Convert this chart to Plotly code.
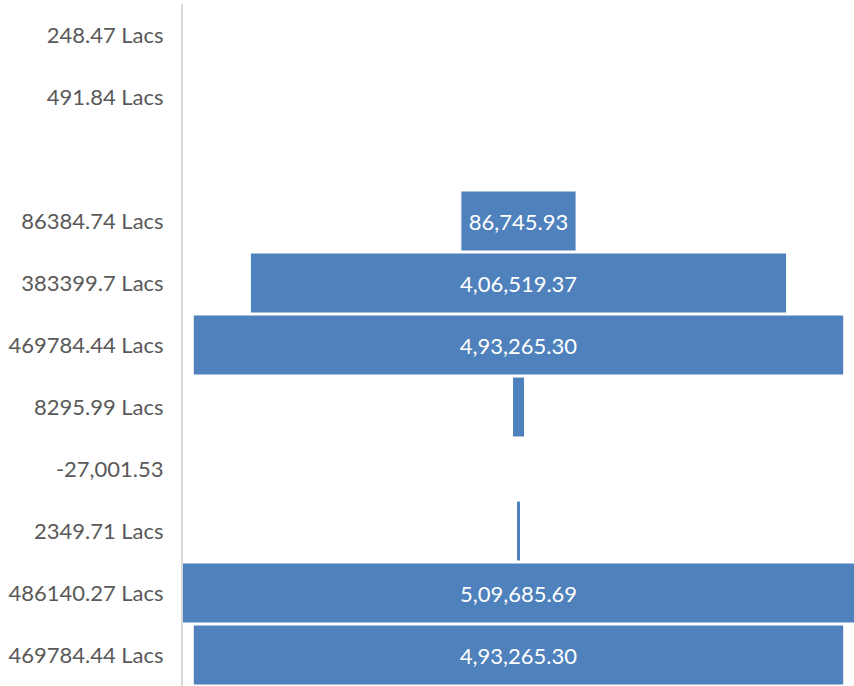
import plotly.graph_objects as go

categories = ["248.47 Lacs", "491.84 Lacs", "", "86384.74 Lacs", "383399.7 Lacs",
              "469784.44 Lacs", "8295.99 Lacs", "-27,001.53", "2349.71 Lacs",
              "486140.27 Lacs", "469784.44 Lacs"]
values = [None, None, None, 86745.93, 406519.37, 493265.30, 8400, None, 2300,
          509685.69, 493265.30]
data_labels = ["", "", "", "86,745.93", "4,06,519.37", "4,93,265.30", "", "", "",
               "5,09,685.69", "4,93,265.30"]

positions = list(range(len(categories)))
vmax = max(v for v in values if v is not None)

fig = go.Figure(go.Funnel(
    y=positions,
    x=values,
    orientation="h",
    text=data_labels,
    textinfo="text",
    textposition="inside",
    insidetextanchor="middle",
    textfont=dict(family="Lato", size=22, color="white"),
    marker=dict(color="#4F81BD", line=dict(width=0)),
    connector=dict(visible=False),
    hoverinfo="x+text",
))

fig.update_layout(
    width=854, height=686,
    margin=dict(l=183, r=0, t=4, b=0),
    paper_bgcolor="white", plot_bgcolor="white",
    funnelgap=0.05,
    showlegend=False,
    font=dict(family="Lato"),
)
fig.update_xaxes(range=[-vmax / 2, vmax / 2], visible=False, showgrid=False, zeroline=False)
fig.update_yaxes(
    tickmode="array", tickvals=positions, ticktext=categories,
    range=[len(categories) - 0.5, -0.5],
    showline=True, linecolor="#D9D9D9", linewidth=2,
    showgrid=False, zeroline=False, ticks="", ticklen=0,
    tickfont=dict(family="Lato", size=22, color="#595959"),
    ticklabelstandoff=13,
)

fig.write_html("out.html")
